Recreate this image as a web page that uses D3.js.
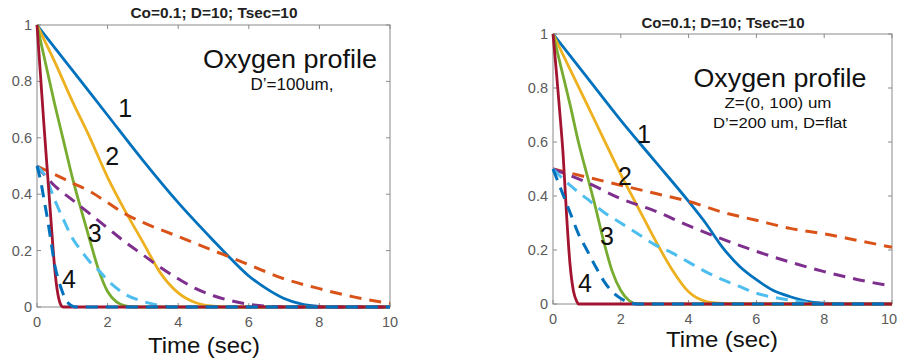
<!DOCTYPE html>
<html>
<head>
<meta charset="utf-8">
<script src="https://cdn.jsdelivr.net/npm/d3@7"></script>
<style>
  body { margin: 0; background: #fff; }
  svg { display: block; font-family: "Liberation Sans", Arial, sans-serif; }
</style>
</head>
<body>
<svg id="chart" width="898" height="362"></svg>
<script>
// ticks and shared text
const xTicks = [0, 2, 4, 6, 8, 10];
const yTicks = [0, 0.2, 0.4, 0.6, 0.8, 1];
const titleText = "Co=0.1; D=10; Tsec=10";
const xLabel = "Time (sec)";
const curveNames = ["1", "2", "3", "4"];

// left panel, D'=100um  -- [time, concentration]
const leftBlue = [[0,1],[1,0.84],[2,0.68],[3,0.52],[4,0.37],[5,0.235],[5.5,0.17],[6,0.11],[6.5,0.065],[7,0.03],[7.5,0.01],[8,0.002],[8.5,0],[10,0]];
const leftYellow = [[0,1],[0.5,0.87],[1,0.73],[1.5,0.6],[2,0.46],[2.5,0.34],[3,0.23],[3.5,0.12],[4,0.05],[4.5,0.015],[5,0.003],[5.5,0],[10,0]];
const leftGreen = [[0,1],[0.25,0.86],[0.5,0.72],[0.75,0.59],[1,0.46],[1.25,0.345],[1.5,0.235],[1.75,0.13],[2,0.055],[2.25,0.018],[2.5,0.004],[2.75,0],[10,0]];
const leftRed = [[0,1],[0.1,0.82],[0.2,0.64],[0.3,0.47],[0.4,0.3],[0.5,0.14],[0.55,0.08],[0.6,0.04],[0.65,0.015],[0.7,0.003],[0.75,0],[10,0]];
const leftOrange = [[0,0.5],[0.5,0.47],[1,0.44],[1.5,0.41],[2,0.37],[2.5,0.33],[3,0.3],[4,0.25],[5,0.2],[6,0.15],[7,0.1],[8,0.065],[9,0.035],[10,0.013]];
const leftPurple = [[0,0.5],[0.5,0.43],[1,0.38],[1.5,0.33],[2,0.28],[2.5,0.23],[3,0.185],[3.5,0.14],[4,0.1],[4.5,0.065],[5,0.04],[5.5,0.022],[6,0.01],[6.5,0.003],[7,0],[10,0]];
const leftCyan = [[0,0.5],[0.25,0.46],[0.5,0.38],[0.75,0.31],[1,0.245],[1.25,0.2],[1.5,0.16],[1.75,0.13],[2,0.095],[2.5,0.045],[3,0.02],[3.5,0.005],[4,0],[10,0]];
const leftNavy = [[0,0.5],[0.1,0.45],[0.2,0.38],[0.3,0.31],[0.4,0.23],[0.5,0.15],[0.6,0.1],[0.7,0.06],[0.8,0.03],[0.9,0.012],[1,0.003],[1.1,0],[10,0]];

// right panel, D'=200 um, D=flat
const rightBlue = [[0,1],[1,0.84],[2,0.68],[3,0.53],[4,0.38],[4.5,0.3],[5,0.21],[5.5,0.14],[6,0.09],[6.5,0.05],[7,0.027],[7.5,0.01],[8,0.003],[8.5,0],[10,0]];
const rightYellow = [[0,1],[0.5,0.87],[1,0.74],[1.5,0.61],[2,0.48],[2.5,0.36],[3,0.24],[3.5,0.13],[4,0.045],[4.5,0.01],[5,0.002],[5.5,0],[10,0]];
const rightGreen = [[0,1],[0.25,0.87],[0.5,0.74],[0.75,0.6],[1,0.48],[1.25,0.36],[1.5,0.23],[1.75,0.12],[2,0.05],[2.25,0.012],[2.5,0],[10,0]];
const rightRed = [[0,1],[0.1,0.86],[0.2,0.71],[0.3,0.55],[0.4,0.33],[0.5,0.15],[0.6,0.05],[0.7,0.01],[0.75,0],[10,0]];
const rightOrange = [[0,0.5],[1,0.47],[2,0.44],[3,0.41],[4,0.38],[5,0.34],[6,0.31],[7,0.28],[8,0.26],[9,0.235],[10,0.21]];
const rightPurple = [[0,0.5],[1,0.45],[2,0.39],[3,0.345],[4,0.29],[5,0.24],[6,0.195],[7,0.155],[8,0.12],[9,0.09],[10,0.066]];
const rightCyan = [[0,0.5],[0.5,0.44],[1,0.39],[1.5,0.34],[2,0.3],[2.5,0.26],[3,0.22],[3.5,0.19],[4,0.155],[4.5,0.12],[5,0.09],[5.5,0.065],[6,0.04],[6.5,0.025],[7,0.014],[7.5,0.006],[8,0],[10,0]];
const rightNavy = [[0,0.5],[0.25,0.42],[0.5,0.34],[0.75,0.26],[1,0.2],[1.25,0.14],[1.5,0.085],[1.75,0.045],[2,0.02],[2.25,0.006],[2.5,0],[10,0]];

// label anchors for curves 1..4 (time, conc)
const leftNameX = [2.3, 1.93, 1.44, 0.71];
const leftNameY = [0.674, 0.504, 0.23, 0.067];
const rightNameX = [2.48, 1.92, 1.39, 0.74];
const rightNameY = [0.596, 0.44, 0.219, 0.044];

const C = {
  blue: "#0072BD", orange: "#D95319", yellow: "#EDB120", purple: "#7E2F8E",
  green: "#77AC30", cyan: "#4DBEEE", red: "#A2142F"
};

const svg = d3.select("#chart");
const W = +svg.attr("width");

function drawPanel(p) {
  const x = d3.scaleLinear().domain([0, 10]).range([p.left, p.right]);
  const y = d3.scaleLinear().domain([0, 1]).range([p.bottom, p.top]);
  const g = svg.append("g");

  const clipId = "clip" + p.id;
  svg.append("clipPath").attr("id", clipId)
    .append("rect")
    .attr("x", p.left - 2).attr("y", p.top - 2)
    .attr("width", p.right - p.left + 4).attr("height", p.bottom - p.top + 4);

  // box
  g.append("rect")
    .attr("x", p.left).attr("y", p.top)
    .attr("width", p.right - p.left).attr("height", p.bottom - p.top)
    .attr("fill", "none").attr("stroke", "#8a8a8a").attr("stroke-width", 1);

  // inward ticks, all four sides
  const tl = 4;
  g.selectAll(".xt").data(xTicks).enter().append("path")
    .attr("d", d => `M${x(d)},${p.bottom}v${-tl}M${x(d)},${p.top}v${tl}`)
    .attr("stroke", "#8a8a8a");
  g.selectAll(".yt").data(yTicks).enter().append("path")
    .attr("d", d => `M${p.left},${y(d)}h${tl}M${p.right},${y(d)}h${-tl}`)
    .attr("stroke", "#8a8a8a");

  // keep the last label inside the page
  g.selectAll(".xl").data(xTicks).enter().append("text")
    .attr("x", d => Math.min(x(d), W - 9)).attr("y", p.bottom + 20)
    .attr("text-anchor", "middle")
    .attr("fill", "#5a5a5a").style("font-size", "14.5px")
    .text(d => d);
  g.selectAll(".yl").data(yTicks).enter().append("text")
    .attr("x", p.left - 5).attr("y", d => y(d) + 5)
    .attr("text-anchor", "end")
    .attr("fill", "#5a5a5a").style("font-size", "14.5px")
    .text(d => d);

  // curves
  const line = d3.line()
    .x(d => x(d[0])).y(d => y(d[1]))
    .curve(d3.curveMonotoneX);
  const lines = g.append("g").attr("clip-path", `url(#${clipId})`);
  p.series.forEach(s => {
    lines.append("path")
      .datum(s.data)
      .attr("d", line)
      .attr("fill", "none")
      .attr("stroke", s.color)
      .attr("stroke-width", s.dash ? 3 : 2.8)
      .attr("stroke-dasharray", s.dash ? "12,8" : null);
  });

  // curve numbers
  curveNames.forEach((n, i) => {
    g.append("text")
      .attr("x", x(p.nameX[i])).attr("y", y(p.nameY[i]))
      .style("font-size", "25px").attr("fill", "#111")
      .text(n);
  });

  // title and axis label (the source is a bit stretched sideways)
  g.append("text")
    .attr("x", p.titleX).attr("y", p.titleY)
    .attr("text-anchor", "middle")
    .attr("textLength", p.titleW).attr("lengthAdjust", "spacingAndGlyphs")
    .style("font-size", "15px").style("font-weight", "bold").attr("fill", "#222")
    .text(titleText);
  g.append("text")
    .attr("x", p.xLabelX).attr("y", p.xLabelY)
    .attr("text-anchor", "middle")
    .attr("textLength", 112).attr("lengthAdjust", "spacingAndGlyphs")
    .style("font-size", "22px").attr("fill", "#111")
    .text(xLabel);

  // annotation block
  p.notes.forEach(t => {
    g.append("text")
      .attr("x", t.x).attr("y", t.y)
      .attr("text-anchor", "middle")
      .attr("textLength", t.w).attr("lengthAdjust", "spacingAndGlyphs")
      .style("font-size", t.size + "px").attr("fill", "#111")
      .text(t.text);
  });
}

drawPanel({
  id: "L", left: 37, right: 390, top: 25, bottom: 307,
  titleX: 214, titleY: 18, titleW: 167, xLabelX: 204, xLabelY: 353,
  nameX: leftNameX, nameY: leftNameY,
  notes: [
    { text: "Oxygen profile", x: 290, y: 68, size: 25, w: 174 },
    { text: "D\u2019=100um,", x: 292, y: 90, size: 16, w: 83 }
  ],
  series: [
    { data: leftBlue, color: C.blue },
    { data: leftYellow, color: C.yellow },
    { data: leftGreen, color: C.green },
    { data: leftOrange, color: C.orange, dash: true },
    { data: leftPurple, color: C.purple, dash: true },
    { data: leftCyan, color: C.cyan, dash: true },
    { data: leftRed, color: C.red },
    { data: leftNavy, color: C.blue, dash: true }
  ]
});

drawPanel({
  id: "R", left: 553, right: 892, top: 34, bottom: 304,
  titleX: 723, titleY: 28, titleW: 163, xLabelX: 722, xLabelY: 347,
  nameX: rightNameX, nameY: rightNameY,
  notes: [
    { text: "Oxygen profile", x: 780, y: 87, size: 25, w: 173 },
    { text: "Z=(0, 100) um", x: 778, y: 108, size: 15, w: 107 },
    { text: "D\u2019=200 um, D=flat", x: 780, y: 128, size: 15, w: 134 }
  ],
  series: [
    { data: rightBlue, color: C.blue },
    { data: rightYellow, color: C.yellow },
    { data: rightGreen, color: C.green },
    { data: rightOrange, color: C.orange, dash: true },
    { data: rightPurple, color: C.purple, dash: true },
    { data: rightCyan, color: C.cyan, dash: true },
    { data: rightRed, color: C.red },
    { data: rightNavy, color: C.blue, dash: true }
  ]
});
</script>
</body>
</html>
